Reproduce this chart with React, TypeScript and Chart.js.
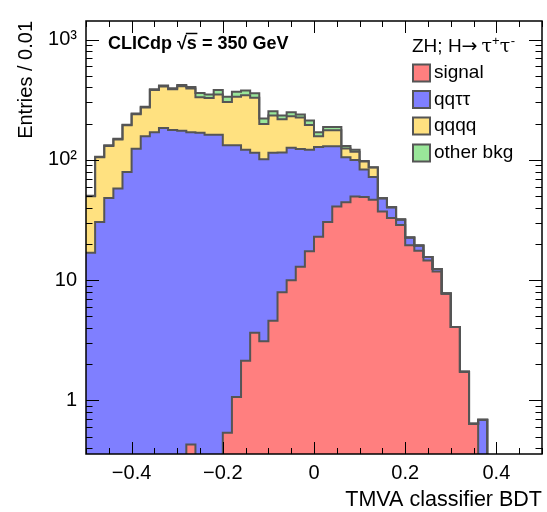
import React, { useEffect, useRef } from "react";
import { Chart, registerables } from "chart.js";

Chart.register(...registerables);

const FONT = "'Liberation Sans', Arial, Helvetica, sans-serif";

// Axis ranges / binning
const X_MIN = -0.5;
const X_MAX = 0.5;
const BIN_WIDTH = 0.02;
const Y_MIN = 0.359;
const Y_MAX = 1427;

// Tick values and labels
const X_TICKS = [-0.4, -0.2, 0, 0.2, 0.4];
const X_TICK_LABELS = ["\u22120.4", "\u22120.2", "0", "0.2", "0.4"];
const X_MINOR_STEP = 0.05;
const Y_TICKS = [1, 10, 100, 1000];
const Y_TICK_LABELS = ["1", "10", "10\u00b2", "10\u00b3"];

// Bin contents (50 bins of width 0.02 from -0.5 to 0.5)
const SIGNAL = [
  0, 0, 0, 0, 0, 0, 0, 0, 0, 0,
  0, 0.43, 0, 0, 0, 0.54, 1.07, 2.14, 3.66, 3.11,
  4.61, 7.93, 10.0, 12.9, 17.4, 23.0, 30.5, 40.9, 44.4, 49.6,
  49.1, 46.7, 37.3, 32.9, 28.7, 19.5, 17.6, 14.6, 11.8, 7.74,
  4.09, 1.73, 0.64, 0, 0, 0, 0, 0, 0, 0,
];
const QQTAUTAU = [
  16.9, 30.5, 48.2, 57.7, 79.3, 124, 157, 170, 184, 177,
  175, 169.6, 168, 162, 162, 131.5, 131, 119, 111, 98,
  110, 107, 116, 110, 104, 105, 99.5, 89, 61, 50,
  34, 25.3, 10.6, 7.5, 3.2, 3.1, 1.8, 1.0, 0.6, 0,
  0, 0, 0, 0.69, 0, 0, 0, 0, 0, 0,
];
const QQQQ = [
  32.9, 74.5, 82.3, 90.3, 114.7, 116, 115, 211, 224, 209,
  235, 222, 164, 165, 188, 171, 202, 224, 214, 98,
  119, 103, 104, 102, 74, 29, 46, 46, 19, 17,
  14, 14.5, 0, 0, 0, 0, 0, 0, 0, 0,
  0, 0, 0, 0, 0, 0, 0, 0, 0, 0,
];
const OTHER_BKG = [
  0.5, 1, 1.5, 2, 2, 3, 4, 6, 7, 8,
  10, 12, 27, 23, 31, 32, 34, 33, 30, 22,
  20, 16, 19, 14, 17, 13, 12, 12, 6, 5,
  1, 0.5, 0, 0, 0, 0, 0, 0, 0, 0,
  0, 0, 0, 0, 0, 0, 0, 0, 0, 0,
];

const SERIES_NAMES = ["signal", "qq\u03c4\u03c4", "qqqq", "other bkg"];
const SERIES_COLORS = ["#ff7f7f", "#7f7fff", "#ffe180", "#99e699"];
const OUTLINE = "#555555";

function buildDatasets() {
  const series = [SIGNAL, QQTAUTAU, QQQQ, OTHER_BKG];
  const nBins = SIGNAL.length;
  const floor = Y_MIN / 100; // below the visible range for empty bins
  let cum = new Array(nBins).fill(0);
  return series.map((s, k) => {
    cum = cum.map((c, i) => c + s[i]);
    const pts: { x: number; y: number }[] = [];
    for (let i = 0; i < nBins; i++) {
      const lo = X_MIN + i * BIN_WIDTH;
      const hi = X_MIN + (i + 1) * BIN_WIDTH;
      const v = cum[i] > 0 ? cum[i] : floor;
      pts.push({ x: lo, y: v });
      pts.push({ x: hi, y: v });
    }
    return {
      label: SERIES_NAMES[k],
      data: pts,
      backgroundColor: SERIES_COLORS[k],
      borderColor: OUTLINE,
      borderWidth: 2,
      pointRadius: 0,
      tension: 0,
      fill: k === 0 ? "start" : "-1",
    };
  });
}

const overlayPlugin = {
  id: "overlay",
  afterDatasetsDraw(chart: any) {
    const { ctx, chartArea: a } = chart;
    const xs = chart.scales.x;
    const ys = chart.scales.y;
    ctx.save();
    ctx.strokeStyle = "#000";
    ctx.lineWidth = 1;
    const seg = (x1: number, y1: number, x2: number, y2: number) => {
      ctx.beginPath();
      ctx.moveTo(x1, y1);
      ctx.lineTo(x2, y2);
      ctx.stroke();
    };
    // x ticks (bottom + top, inward)
    const nx = Math.round((X_MAX - X_MIN) / X_MINOR_STEP);
    for (let k = 0; k <= nx; k++) {
      const v = X_MIN + k * X_MINOR_STEP;
      const major = X_TICKS.some((t) => Math.abs(t - v) < 1e-9);
      const len = major ? 12 : 6;
      const px = Math.round(xs.getPixelForValue(v)) + 0.5;
      seg(px, a.bottom, px, a.bottom - len);
      seg(px, a.top, px, a.top + len);
    }
    // y ticks (left + right, inward)
    for (let e = -1; e <= 3; e++) {
      for (let m = 1; m <= 9; m++) {
        const v = m * Math.pow(10, e);
        if (v < Y_MIN || v > Y_MAX) continue;
        const len = m === 1 ? 13 : 6.5;
        const py = Math.round(ys.getPixelForValue(v)) + 0.5;
        seg(a.left, py, a.left + len, py);
        seg(a.right, py, a.right - len, py);
      }
    }
    // frame
    ctx.lineWidth = 1.5;
    ctx.strokeRect(a.left, a.top, a.right - a.left, a.bottom - a.top);

    // CLICdp label
    ctx.fillStyle = "#000";
    ctx.textBaseline = "alphabetic";
    ctx.textAlign = "left";
    ctx.font = `bold 18px ${FONT}`;
    const lx = 108;
    const lb = 49;
    const label = "CLICdp \u221As = 350 GeV";
    ctx.fillText(label, lx, lb);
    const w0 = ctx.measureText("CLICdp \u221A").width;
    const ws = ctx.measureText("s").width;
    ctx.lineWidth = 1.5;
    seg(lx + w0 - 1, lb - 15.5, lx + w0 + ws + 0.5, lb - 15.5);

    // legend header: ZH; H→ τ+τ-
    ctx.font = `19px ${FONT}`;
    let hx = 412;
    const hb = 52;
    const p1 = "ZH; H";
    ctx.fillText(p1, hx, hb);
    hx += ctx.measureText(p1).width;
    ctx.font = `19px 'DejaVu Sans', ${FONT}`;
    ctx.fillText("\u2192", hx, hb);
    hx += ctx.measureText("\u2192").width + 4;
    ctx.font = `19px 'DejaVu Serif', ${FONT}`;
    ctx.fillText("\u03c4", hx, hb);
    hx += ctx.measureText("\u03c4").width;
    ctx.font = `13px ${FONT}`;
    ctx.fillText("+", hx, hb - 7);
    hx += ctx.measureText("+").width;
    ctx.font = `19px 'DejaVu Serif', ${FONT}`;
    ctx.fillText("\u03c4", hx, hb);
    hx += ctx.measureText("\u03c4").width;
    ctx.font = `13px ${FONT}`;
    ctx.fillText("-", hx + 0.5, hb - 7);

    // legend entries
    const tops = [64.5, 91, 117.5, 144.5];
    ctx.font = `19px ${FONT}`;
    ctx.textBaseline = "middle";
    for (let i = 0; i < SERIES_NAMES.length; i++) {
      const bx = 413;
      const by = tops[i];
      ctx.fillStyle = SERIES_COLORS[i];
      ctx.fillRect(bx, by, 17, 17);
      ctx.strokeStyle = OUTLINE;
      ctx.lineWidth = 2;
      ctx.strokeRect(bx, by, 17, 17);
      ctx.fillStyle = "#000";
      ctx.fillText(SERIES_NAMES[i], 434, by + 8.5);
    }
    ctx.restore();
  },
};

export default function App() {
  const ref = useRef<HTMLCanvasElement | null>(null);
  useEffect(() => {
    if (!ref.current) return;
    Chart.defaults.font.family = FONT;
    Chart.defaults.color = "#000";
    const chart = new Chart(ref.current, {
      type: "line",
      data: { datasets: buildDatasets() as any },
      options: {
        animation: false,
        responsive: false,
        devicePixelRatio: 1,
        layout: { padding: { left: 0, right: 5, top: 11, bottom: 0 } },
        plugins: {
          legend: { display: false },
          tooltip: { enabled: false },
          filler: { drawTime: "beforeDatasetsDraw" } as any,
        },
        scales: {
          x: {
            type: "linear",
            min: X_MIN,
            max: X_MAX,
            grid: { display: false, drawTicks: false },
            border: { display: false },
            afterBuildTicks: (scale: any) => {
              scale.ticks = X_TICKS.map((v) => ({ value: v }));
            },
            afterFit: (scale: any) => {
              scale.height = 58;
            },
            ticks: {
              autoSkip: false,
              maxRotation: 0,
              padding: 7,
              font: { size: 20 },
              color: "#000",
              callback: (v: any) => {
                const i = X_TICKS.findIndex((t) => Math.abs(t - Number(v)) < 1e-9);
                return i >= 0 ? X_TICK_LABELS[i] : "";
              },
            },
            title: {
              display: true,
              text: "TMVA classifier BDT",
              align: "end",
              color: "#000",
              font: { size: 21.5, lineHeight: 1 },
              padding: { top: 0, bottom: 1 },
            },
          },
          y: {
            type: "logarithmic",
            min: Y_MIN,
            max: Y_MAX,
            grid: { display: false, drawTicks: false },
            border: { display: false },
            afterBuildTicks: (scale: any) => {
              scale.ticks = Y_TICKS.map((v) => ({ value: v }));
            },
            afterFit: (scale: any) => {
              scale.width = 86;
            },
            ticks: {
              autoSkip: false,
              padding: 9,
              font: { size: 20 },
              color: "#000",
              callback: (v: any) => {
                const i = Y_TICKS.indexOf(Number(v));
                return i >= 0 ? Y_TICK_LABELS[i] : "";
              },
            },
            title: {
              display: true,
              text: "Entries / 0.01",
              align: "end",
              color: "#000",
              font: { size: 20 },
              padding: { top: 14, bottom: 0 },
            },
          },
        },
      },
      plugins: [overlayPlugin],
    });
    return () => chart.destroy();
  }, []);
  return (
    <div style={{ position: "absolute", left: 0, top: 0, width: 547, height: 512, background: "#fff" }}>
      <canvas ref={ref} width={547} height={512} style={{ display: "block", width: 547, height: 512 }} />
    </div>
  );
}
